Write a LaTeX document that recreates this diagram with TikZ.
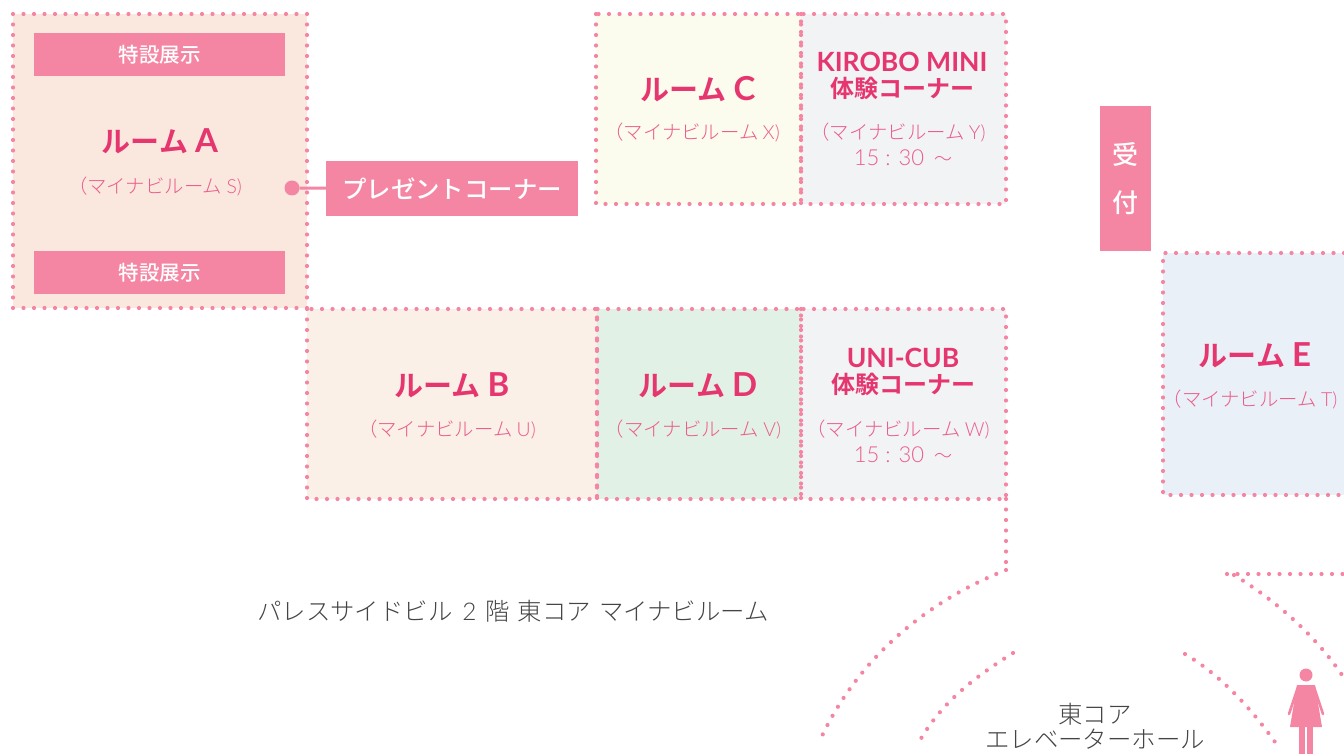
\documentclass[tikz,border=0pt]{standalone}
\usepackage{fontspec}
\setmainfont{Noto Sans CJK JP}[BoldFont={Noto Sans CJK JP Bold}]
\newfontfamily\latfont{Lato}[BoldFont={Lato Bold}]
\newfontfamily\latlight{Lato Light}
\newfontfamily\jplight{Noto Sans CJK JP Light}
\newfontfamily\jpmedium{Noto Sans CJK JP Medium}
\definecolor{dotpink}{HTML}{F486A3}
\definecolor{deeppink}{HTML}{E6366F}
\definecolor{thinpink}{HTML}{EC5C8A}
\definecolor{darktext}{HTML}{444444}
\definecolor{roomA}{HTML}{FAE8DF}
\definecolor{roomB}{HTML}{FAF0E7}
\definecolor{roomC}{HTML}{FBFBEE}
\definecolor{roomD}{HTML}{E2F1E6}
\definecolor{roomE}{HTML}{E9F0F7}
\definecolor{roomG}{HTML}{F1F3F5}
\newcommand{\fsz}[1]{\fontsize{#1}{#1}\selectfont}
\newcommand{\roomname}[1]{ルーム\hspace{7pt}{\latfont\fsz{33}#1}}
\tikzset{
    dotline/.style = {dotpink, line width=4.2pt, line cap=round, dash pattern=on 0pt off 10.5pt},
    room/.style = {inner sep=0pt, outer sep=0pt, anchor=north west},
    banner/.style = {fill=dotpink, text=white, inner sep=0pt, outer sep=0pt},
    roomtitle/.style = {text=deeppink, font=\bfseries\fsz{29}, inner sep=0pt},
    cornertitle/.style = {text=deeppink, font=\bfseries\fsz{24}, inner sep=0pt},
    roomsub/.style = {text=thinpink, font=\jplight\fsz{19.4}, inner sep=0pt},
    floortext/.style = {text=darktext, font=\jplight\fsz{24.4}, inner sep=0pt}
}
\begin{document}
\begin{tikzpicture}[x=1pt, y=-1pt]
    \useasboundingbox (0, 0) rectangle (1344, 754);
    % rooms
    \node[room, fill=roomA, draw=none, minimum width=294pt, minimum height=294pt] (roomA) at (13, 14) {};
    \node[room, fill=roomB, minimum width=290pt, minimum height=190pt] (roomB) at (307, 309) {};
    \node[room, fill=roomD, minimum width=204pt, minimum height=190pt] (roomD) at (597, 309) {};
    \node[room, fill=roomG, minimum width=205pt, minimum height=190pt] (roomU) at (801, 309) {};
    \node[room, fill=roomC, minimum width=205pt, minimum height=190pt] (roomC) at (596, 14) {};
    \node[room, fill=roomG, minimum width=205pt, minimum height=190pt] (roomK) at (801, 14) {};
    \node[room, fill=roomE, minimum width=181pt, minimum height=242pt] (roomE) at (1163, 253) {};
    % dotted outlines
    \draw[dotline] (roomA.north west) rectangle (roomA.south east);
    \draw[dotline] (roomB.north west) rectangle (roomB.south east);
    \draw[dotline] (roomD.north west) rectangle (roomD.south east);
    \draw[dotline] (roomU.north west) rectangle (roomU.south east);
    \draw[dotline] (roomC.north west) rectangle (roomC.south east);
    \draw[dotline] (roomK.north west) rectangle (roomK.south east);
    \draw[dotline] (roomE.north east) -- (roomE.north west) -- (roomE.south west) -- (roomE.south east);
    % banners
    \node[banner, minimum width=251pt, minimum height=43pt, font=\jpmedium\fsz{20.5}] (specialT) at (159.5, 54.5) {特設展示};
    \node[banner, minimum width=251pt, minimum height=43pt, font=\jpmedium\fsz{20.5}] (specialB) at (159.5, 272.5) {特設展示};
    \node[banner, minimum width=252pt, minimum height=55pt, font=\jpmedium\fsz{24.4}] (present) at (452, 188.5) {プレゼントコーナー};
    \node[banner, minimum width=51pt, minimum height=145pt, font=\jpmedium\fsz{26}, align=center] (reception) at (1125.5, 178.5) {受\\[22pt]付};
    \node[circle, fill=dotpink, inner sep=0pt, minimum size=15pt] (presentdot) at (292, 188) {};
    \draw[dotpink, line width=3pt] (presentdot) -- (present);
    % room labels
    \node[roomtitle] (titleA) at (160, 141) {\roomname{A}};
    \node[roomsub] (subA) at (155, 187) {（マイナビルーム {\latlight S)}};
    \node[roomtitle] (titleB) at (452, 385) {\roomname{B}};
    \node[roomsub] (subB) at (447, 430) {（マイナビルーム {\latlight U)}};
    \node[roomtitle] (titleC) at (698, 89) {\roomname{C}};
    \node[roomsub] (subC) at (692, 133) {（マイナビルーム {\latlight X)}};
    \node[roomtitle] (titleD) at (698, 385) {\roomname{D}};
    \node[roomsub] (subD) at (693, 430) {（マイナビルーム {\latlight V)}};
    \node[roomtitle] (titleE) at (1255, 355) {\roomname{E}};
    \node[roomsub] (subE) at (1250, 400) {（マイナビルーム {\latlight T)}};
    \node[cornertitle, font=\latfont\bfseries\fsz{26.5}] (titleK) at (902, 62) {KIROBO MINI};
    \node[cornertitle] (cornerK) at (902, 88) {体験コーナー};
    \node[roomsub] (subK) at (898, 133) {（マイナビルーム {\latlight Y)}};
    \node[roomsub, font=\latlight\fsz{22}] (timeK) at (903, 158) {15 : 30 {\jplight\fsz{18} ～}};
    \node[cornertitle, font=\latfont\bfseries\fsz{26.5}] (titleU) at (903, 358) {UNI-CUB};
    \node[cornertitle] (cornerU) at (903, 384) {体験コーナー};
    \node[roomsub] (subU) at (898, 430) {（マイナビルーム {\latlight W)}};
    \node[roomsub, font=\latlight\fsz{22}] (timeU) at (903, 455) {15 : 30 {\jplight\fsz{18} ～}};
    % floor text
    \node[floortext] (floorname) at (513, 611) {パレスサイドビル\hspace{10pt}{\latlight 2}\hspace{9pt}階\hspace{8pt}東コア\hspace{8pt}マイナビルーム};
    \node[floortext] (hallA) at (1095, 714) {東コア};
    \node[floortext] (hallB) at (1095, 739) {エレベーターホール};
    % walls
    \coordinate (wallA) at (1006, 570);
    \coordinate (wallB) at (821, 738);
    \coordinate (wallC) at (1013, 653);
    \coordinate (wallD) at (919, 742);
    \coordinate (wallE) at (1185, 654);
    \coordinate (wallF) at (1275, 742);
    \coordinate (wallG) at (1234, 575);
    \coordinate (wallH) at (1342, 675);
    \coordinate (wallI) at (1227, 574);
    \coordinate (wallJ) at (1344, 574);
    \draw[dotline] (roomU.south east) -- (wallA);
    \draw[dotline] (wallA) .. controls (930, 600) and (860, 655) .. (wallB);
    \draw[dotline] (wallC) .. controls (970, 680) and (940, 705) .. (wallD);
    \draw[dotline] (wallE) .. controls (1215, 672) and (1245, 700) .. (wallF);
    \draw[dotline] (wallG) .. controls (1275, 600) and (1315, 635) .. (wallH);
    \draw[dotline] (wallI) -- (wallJ);
    % figure
    \fill[dotpink] (1306, 675) circle (6.5);
    \fill[dotpink] (1297, 685) -- (1315, 685) -- (1322, 727) -- (1290, 727) -- cycle;
    \draw[dotpink, line width=2.6pt, line cap=round] (1298, 687) -- (1289, 714);
    \draw[dotpink, line width=2.6pt, line cap=round] (1314, 687) -- (1323, 714);
    \fill[dotpink] (1299, 727) rectangle (1304.6, 754);
    \fill[dotpink] (1307.4, 727) rectangle (1313, 754);
\end{tikzpicture}
\end{document}
